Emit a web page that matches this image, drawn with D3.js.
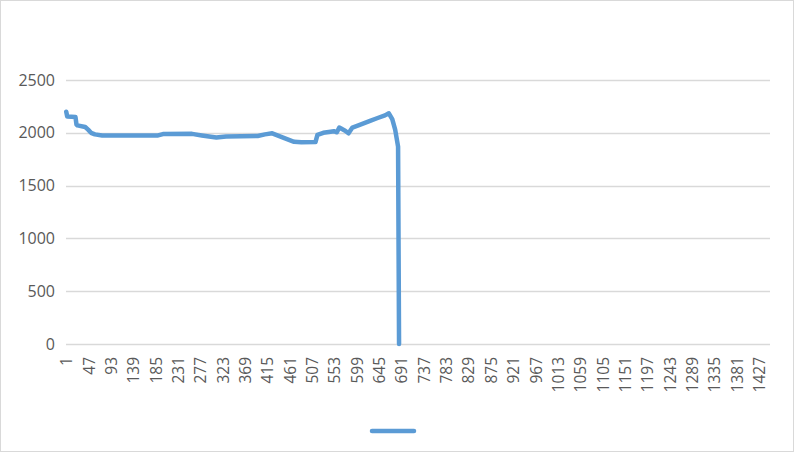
<!DOCTYPE html>
<html>
<head>
<meta charset="utf-8">
<script src="https://cdn.jsdelivr.net/npm/d3@7"></script>
<style>
  body { margin: 0; background: #fff; }
  svg text { font-family: "Open Sans", "Liberation Sans", sans-serif; fill: #595959; }
</style>
</head>
<body>
<svg id="chart" width="794" height="452"></svg>
<script>
// number of categories on the x axis
var categoryCount = 1449;

// x tick labels (every 46th category)
var xTickLabels = [1, 47, 93, 139, 185, 231, 277, 323, 369, 415, 461, 507, 553, 599, 645,
    691, 737, 783, 829, 875, 921, 967, 1013, 1059, 1105, 1151, 1197, 1243, 1289, 1335, 1381, 1427];

var yTickLabels = [0, 500, 1000, 1500, 2000, 2500];

// points: category index and value
var pointIndex = [1, 3, 20, 22, 24, 40, 46, 52, 60, 75, 190, 200, 260, 280, 310, 330, 395,
    410, 425, 450, 470, 485, 514, 518, 530, 545, 552, 558, 563, 575, 582, 590, 605, 625,
    642, 657, 665, 672, 678, 684, 686];
var pointValue = [2200, 2155, 2150, 2080, 2070, 2055, 2030, 2000, 1985, 1975, 1975, 1988,
    1990, 1975, 1955, 1965, 1970, 1985, 1995, 1950, 1915, 1910, 1912, 1980, 2000, 2010,
    2015, 2005, 2050, 2020, 1995, 2050, 2075, 2110, 2140, 2165, 2185, 2130, 2030, 1870, 0];

var svg = d3.select('#chart');

// outer frame
svg.append('rect')
    .attr('x', 0.5).attr('y', 0.5)
    .attr('width', 793).attr('height', 451)
    .attr('fill', '#fff')
    .attr('stroke', '#d9d9d9');

var plotLeft = 66, plotRight = 770, plotTop = 80, plotBottom = 344;

var x = d3.scaleLinear([0.5, categoryCount + 0.5], [plotLeft, plotRight]);
var y = d3.scaleLinear([0, 2500], [plotBottom, plotTop]);

// gridlines
svg.append('g')
    .selectAll('line')
    .data(yTickLabels)
    .join('line')
    .attr('x1', plotLeft).attr('x2', plotRight)
    .attr('y1', function(d) { return Math.round(y(d)) + 0.5; })
    .attr('y2', function(d) { return Math.round(y(d)) + 0.5; })
    .attr('stroke', '#d9d9d9')
    .attr('stroke-width', 1.3);

// y axis labels
var yAxis = d3.axisLeft(y).tickValues(yTickLabels).tickFormat(d3.format('d'))
    .tickSize(0).tickPadding(11);
var gy = svg.append('g').attr('transform', 'translate(' + plotLeft + ',0)').call(yAxis);
gy.select('.domain').remove();
gy.selectAll('text').style('font-size', '16px').attr('fill', '#595959');

// x axis labels, rotated
var xAxis = d3.axisBottom(x).tickValues(xTickLabels).tickFormat(d3.format('d')).tickSize(0);
var gx = svg.append('g').attr('transform', 'translate(0,' + plotBottom + ')').call(xAxis);
gx.select('.domain').remove();
gx.selectAll('text')
    .style('font-size', '15.5px')
    .attr('fill', '#595959')
    .attr('text-anchor', 'end')
    .attr('dy', '0.35em')
    .attr('transform', 'translate(0,13) rotate(-90)')
    .attr('x', 0).attr('y', 0);

// the series
var points = pointIndex.map(function(d, i) { return [d, pointValue[i]]; });
var line = d3.line()
    .x(function(d) { return x(d[0]); })
    .y(function(d) { return y(d[1]); });

svg.append('path')
    .datum(points)
    .attr('d', line)
    .attr('fill', 'none')
    .attr('stroke', '#5b9bd5')
    .attr('stroke-width', 4.5)
    .attr('stroke-linejoin', 'round')
    .attr('stroke-linecap', 'round');

// legend (series has no name)
svg.append('line')
    .attr('x1', 372).attr('x2', 414)
    .attr('y1', 431).attr('y2', 431)
    .attr('stroke', '#5b9bd5')
    .attr('stroke-width', 4.5)
    .attr('stroke-linecap', 'round');
</script>
</body>
</html>
